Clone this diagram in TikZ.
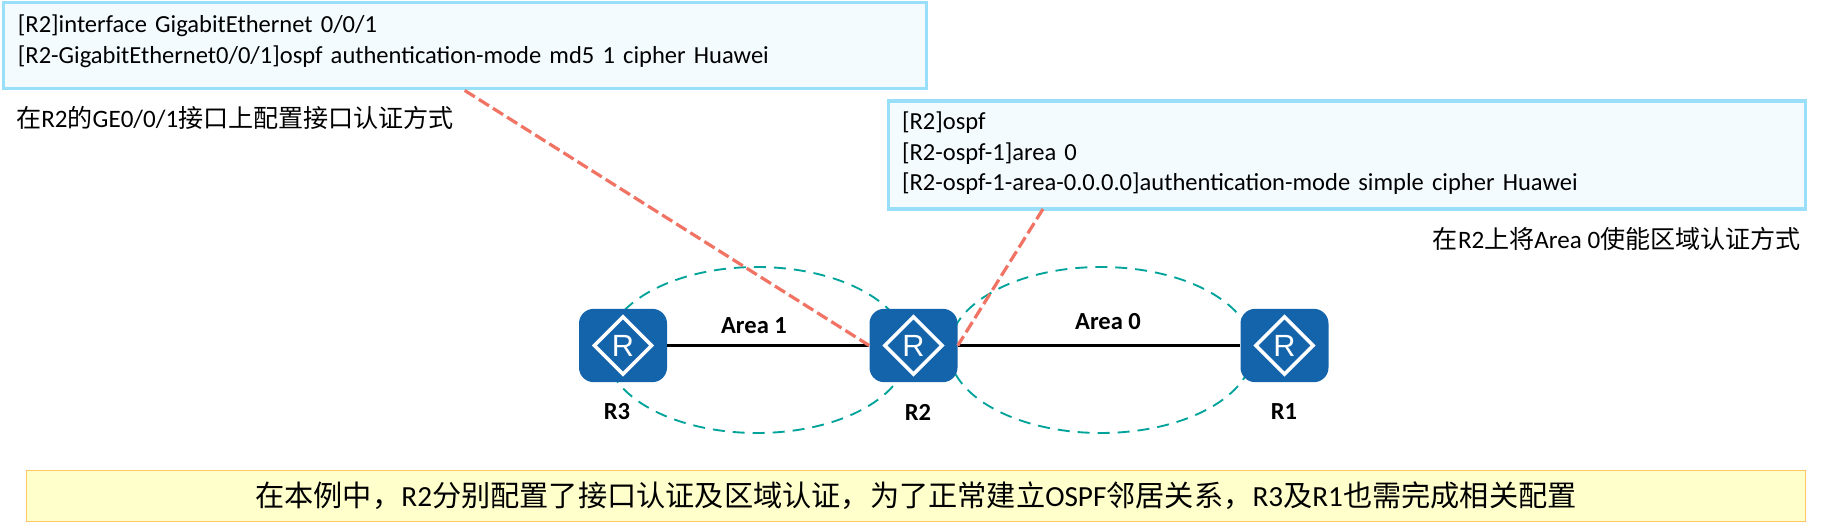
\documentclass[tikz,border=0pt]{standalone}
\usepackage{fontspec}
\setmainfont{Carlito}
\newfontfamily\cjk{Noto Sans CJK SC}
\newfontfamily\iconfont{Liberation Sans}
\usetikzlibrary{shapes.geometric}
\newcommand{\zh}[1]{{\cjk #1}}
\definecolor{boxline}{HTML}{9ADFFA}
\definecolor{boxfill}{HTML}{F3FBFF}
\definecolor{routerblue}{HTML}{1464AC}
\definecolor{teal}{HTML}{00A39A}
\definecolor{salmon}{HTML}{F07364}
\definecolor{noteline}{HTML}{FFC864}
\definecolor{notefill}{HTML}{FFFFCC}
\tikzset{
  cfgbox/.style={draw=boxline,fill=boxfill,line width=2.6pt,anchor=north west,align=left,inner sep=0pt,font=\fontsize{18.4}{23}\selectfont},
  routerbox/.style={fill=routerblue,rounded corners=11pt,minimum width=66pt,minimum height=55pt,inner sep=0pt,text=white,font=\iconfont\fontsize{23}{23}\selectfont},
  routerdiamond/.style={diamond,aspect=1,draw=white,line width=2.6pt,minimum width=44pt,minimum height=44pt,inner sep=0pt},
  arealoop/.style={draw=teal,line width=1.4pt,dash pattern=on 9pt off 6pt},
  calloutline/.style={draw=salmon,line width=2.4pt,dash pattern=on 9pt off 3.5pt},
  link/.style={draw=black,line width=2.3pt},
  boldlabel/.style={font=\bfseries\fontsize{18.4}{22}\selectfont,inner sep=0pt},
  caption/.style={font=\fontsize{18.8}{22}\selectfont,inner sep=0pt},
}
\begin{document}
\begin{tikzpicture}[x=0.75pt,y=-0.75pt]
\useasboundingbox (0,0) rectangle (1831,531);
% area ellipses
\draw[arealoop] (757,350) ellipse [x radius=151,y radius=83];
\draw[arealoop] (1101,350) ellipse [x radius=152,y radius=83];
% routers
\node[routerbox] (r3) at (623,345.5) {R};
\node[routerbox] (r2) at (913.5,345.5) {R};
\node[routerbox] (r1) at (1284.5,345.5) {R};
\node[routerdiamond] (d3) at (r3) {};
\node[routerdiamond] (d2) at (r2) {};
\node[routerdiamond] (d1) at (r1) {};
\draw[link] (r3) -- (r2);
\draw[link] (r2) -- (r1);
% boxes
\node[cfgbox,text width=923pt*0.75,minimum height=64.5pt] (box1) at (1.5,1) {\hspace*{11pt}[R2]interface GigabitEthernet 0/0/1\\\hspace*{11pt}[R2-GigabitEthernet0/0/1]ospf authentication-mode md5 1 cipher Huawei\rule[-9.5pt]{0pt}{1pt}};
\node[cfgbox,text width=917pt*0.75,minimum height=81pt] (box2) at (887,99.5) {\hspace*{10pt}[R2]ospf\\\hspace*{10pt}[R2-ospf-1]area 0\\\hspace*{10pt}[R2-ospf-1-area-0.0.0.0]authentication-mode simple cipher Huawei\rule[-6pt]{0pt}{1pt}};
\coordinate (box2foot) at (1043,209);
\draw[calloutline] (box1.south) -- (r2.west);
\draw[calloutline] (box2foot) -- (r2.east);
% labels
\node[boldlabel] (a1) at (754,326) {Area 1};
\node[boldlabel] (a0) at (1108,322) {Area 0};
\node[boldlabel] (l3) at (617,412) {R3};
\node[boldlabel] (l2) at (918,412) {R2};
\node[boldlabel] (l1) at (1284,412) {R1};
\node[caption,anchor=west] (c1) at (16,118) {\zh{在}R2\zh{的}GE0/0/1\zh{接口上配置接口认证方式}};
\node[caption,anchor=east] (c2) at (1801,239) {\zh{在}R2\zh{上将}Area 0\zh{使能区域认证方式}};
\node[draw=noteline,fill=notefill,line width=0.9pt,minimum width=1334pt,minimum height=38.5pt,inner sep=0pt,font=\fontsize{21.9}{25}\selectfont] (note) at (916,496) {\zh{在本例中，}R2\zh{分别配置了接口认证及区域认证，为了正常建立}OSPF\zh{邻居关系，}R3\zh{及}R1\zh{也需完成相关配置}};
\end{tikzpicture}
\end{document}
